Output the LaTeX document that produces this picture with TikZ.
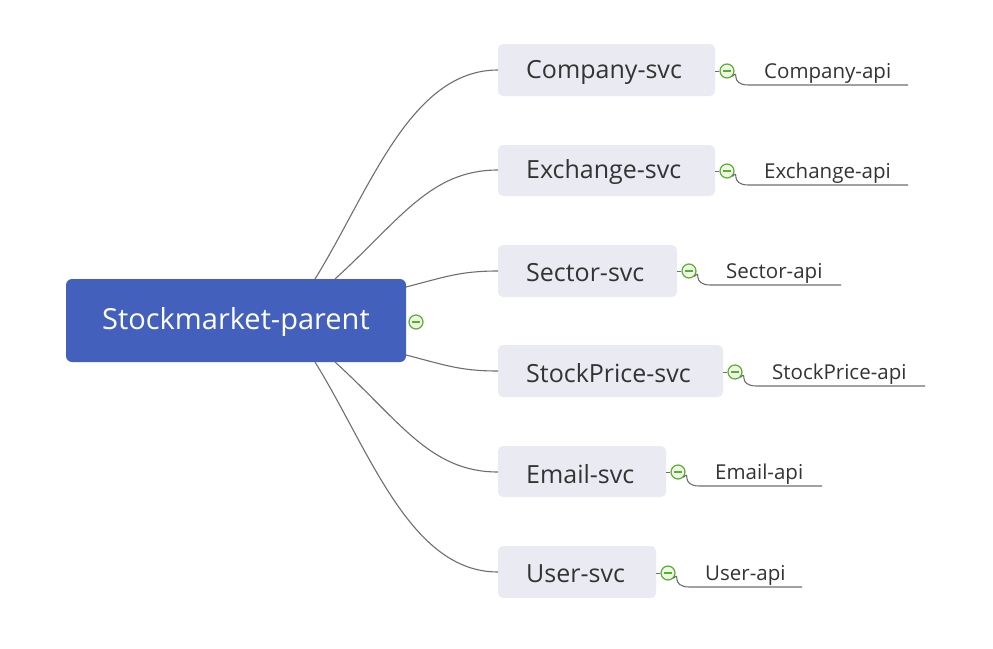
\documentclass[tikz,border=0pt]{standalone}
\usepackage{fontspec}
\setmainfont{Open Sans}
\definecolor{parentblue}{HTML}{4360BD}
\definecolor{svcfill}{HTML}{EAEAF2}
\definecolor{linegray}{HTML}{6E6E6E}
\definecolor{txt}{HTML}{333333}
\definecolor{togreen}{HTML}{5AAE2E}
\definecolor{tolight}{HTML}{EEF6E6}
\tikzset{
  parentbox/.style={fill=parentblue, rounded corners=6pt, inner sep=0pt},
  svcbox/.style={fill=svcfill, rounded corners=5pt, inner sep=0pt},
  svctext/.style={anchor=west, text=txt, font=\fontsize{25}{27}\selectfont, inner sep=0pt},
  apitext/.style={anchor=base west, text=txt, font=\fontsize{20.5}{22}\selectfont, inner sep=0pt},
  conn/.style={draw=linegray, line width=1.1pt},
  toggle/.style={circle, draw=togreen, fill=tolight, line width=1.2pt, minimum size=14pt, inner sep=0pt,
    path picture={\draw[togreen, line width=1.3pt] ([xshift=-3.8pt]path picture bounding box.center) -- ([xshift=3.8pt]path picture bounding box.center);}},
}
\begin{document}
\begin{tikzpicture}[x=1pt,y=-1pt]
\useasboundingbox (0,0) rectangle (993,648);
% parent
\path[parentbox] (66,279) rectangle (406,362);
\node[text=white, font=\fontsize{29}{32}\selectfont, inner sep=0pt] (parent) at (236,322) {Stockmarket-parent};
\coordinate (pA) at (315,279);
\coordinate (pB) at (335,279);
\coordinate (pC) at (406,287);
\coordinate (pD) at (406,355);
\coordinate (pE) at (335,362);
\coordinate (pF) at (315,362);
\node[toggle] (tp) at (416,322) {};

% svc boxes
\path[svcbox] (498,44) rectangle (715,96);
\path[svcbox] (498,145) rectangle (715,196);
\path[svcbox] (498,245) rectangle (677,297);
\path[svcbox] (498,345) rectangle (723,397);
\path[svcbox] (498,446) rectangle (666,497);
\path[svcbox] (498,546) rectangle (656,598);

\coordinate (s1) at (498,70);
\coordinate (s2) at (498,170);
\coordinate (s3) at (498,271);
\coordinate (s4) at (498,371);
\coordinate (s5) at (498,472);
\coordinate (s6) at (498,572);

\node[svctext] (t1) at (526,72) {Company-svc};
\node[svctext] (t2) at (526,172) {Exchange-svc};
\node[svctext] (t3) at (526,273) {Sector-svc};
\node[svctext] (t4) at (526,373) {StockPrice-svc};
\node[svctext] (t5) at (526,474) {Email-svc};
\node[svctext] (t6) at (526,574) {User-svc};

% main connectors
\draw[conn] (pA) .. controls (370,190) and (410,70) .. (s1);
\draw[conn] (pB) .. controls (400,220) and (430,170) .. (s2);
\draw[conn] (pC) .. controls (445,277) and (460,271) .. (s3);
\draw[conn] (pD) .. controls (445,365) and (460,371) .. (s4);
\draw[conn] (pE) .. controls (400,421) and (430,472) .. (s5);
\draw[conn] (pF) .. controls (370,451) and (410,572) .. (s6);

% api branches
\foreach \n/\bx/\ix/\y/\ex/\lab in {
  1/715/727/71/908/Company-api,
  2/715/727/171/908/Exchange-api,
  3/677/689/271/841/Sector-api,
  4/723/735/372/925/StockPrice-api,
  5/666/678/472/822/Email-api,
  6/656/668/573/802/User-api}{
  \coordinate (b\n) at (\bx,\y);
  \coordinate (e\n) at (\ex,\y+14);
  \node[toggle] (tg\n) at (\ix,\y) {};
  \draw[conn, line width=0.9pt] (b\n) -- (tg\n.west);
  \draw[conn] (tg\n.south east) .. controls ([xshift=8pt,yshift=8pt]tg\n.south east) and ([xshift=-6pt]e\n -| tg\n.east) .. ([xshift=14pt]e\n -| tg\n.east) -- (e\n);
  \node[apitext] (a\n) at (\ix+37,\y+7) {\lab};
}
\end{tikzpicture}
\end{document}
